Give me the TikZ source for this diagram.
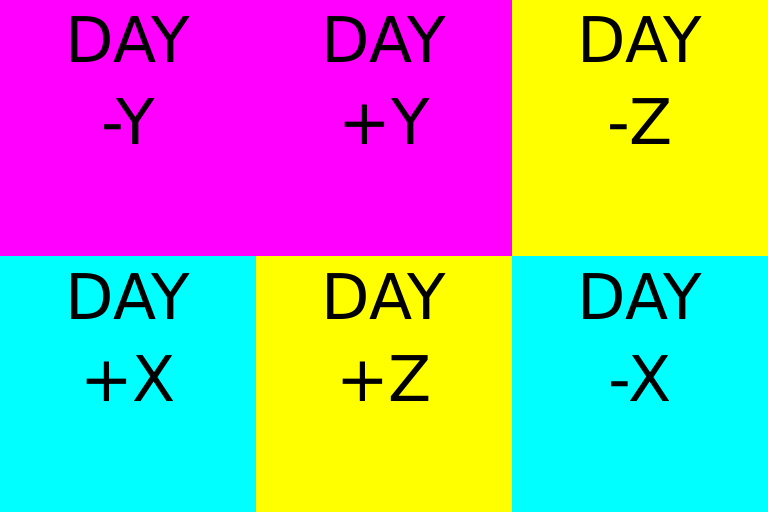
\documentclass[tikz,border=0pt]{standalone}
\usepackage{fontspec}
\setmainfont{DejaVu Sans}
\definecolor{facemagenta}{RGB}{255,0,255}
\definecolor{faceyellow}{RGB}{255,255,0}
\definecolor{facecyan}{RGB}{0,255,255}
\tikzset{
  tile/.style={draw=none, minimum size=256pt, inner sep=0pt, outer sep=0pt, anchor=south west},
  word/.style={anchor=base, inner sep=0pt, font=\fontsize{63}{82}\selectfont}
}
\begin{document}
\begin{tikzpicture}[x=1pt, y=1pt]

\useasboundingbox (0,0) rectangle (768,512);

% tiles
\node[tile, fill=facemagenta] (t1) at (0,256) {};
\node[tile, fill=facemagenta] (t2) at (256,256) {};
\node[tile, fill=faceyellow] (t3) at (512,256) {};
\node[tile, fill=facecyan] (t4) at (0,0) {};
\node[tile, fill=faceyellow] (t5) at (256,0) {};
\node[tile, fill=facecyan] (t6) at (512,0) {};

% labels
\node[word] (d1) at (128,449) {DAY};
\node[word] (a1) at (128,367) {-Y};
\node[word] (d2) at (384,449) {DAY};
\node[word] (a2) at (384,367) {+Y};
\node[word] (d3) at (640,449) {DAY};
\node[word] (a3) at (640,367) {-Z};
\node[word] (d4) at (128,193) {DAY};
\node[word] (a4) at (128,111) {+X};
\node[word] (d5) at (384,193) {DAY};
\node[word] (a5) at (384,111) {+Z};
\node[word] (d6) at (640,193) {DAY};
\node[word] (a6) at (640,111) {-X};

\end{tikzpicture}
\end{document}
